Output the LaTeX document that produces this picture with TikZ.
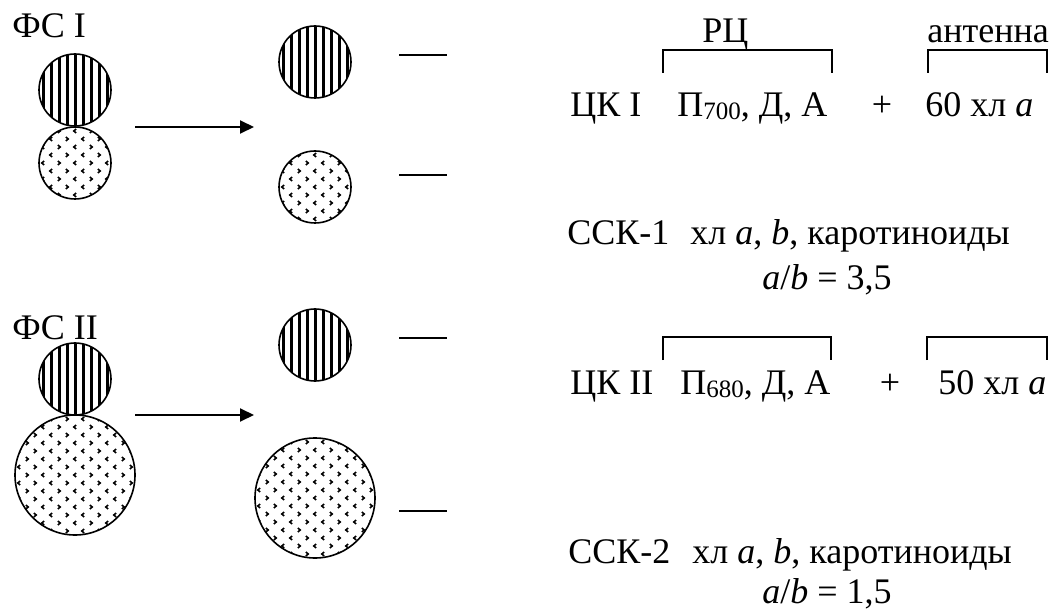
\documentclass[tikz,border=0pt]{standalone}
\usepackage{fontspec}
\setmainfont{Liberation Serif}
\usepackage{tikz}
\usetikzlibrary{arrows.meta,positioning}

\newcommand{\lowidx}[1]{\raisebox{-1.5pt}{\fontsize{12.5}{13}\selectfont #1}}

\tikzset{
  lbl/.style={anchor=base west,inner sep=0pt,font=\fontsize{18}{20}\selectfont},
  plus/.style={anchor=base,inner sep=0pt,font=\fontsize{18}{20}\selectfont},
  stripedcirc/.style={circle,draw,line width=.8pt,inner sep=0pt,minimum size=#1,
    path picture={
      \foreach \i in {-8,...,8}
        \draw[line width=1.5pt] ([xshift=\i*4pt]path picture bounding box.south)
          -- ([xshift=\i*4pt]path picture bounding box.north);}},
  dottedcirc/.style={circle,draw,line width=.8pt,inner sep=0pt,minimum size=#1,
    path picture={
      \foreach \i in {-8,...,8}{
        \foreach \j in {-8,...,8}{
          \pgfmathtruncatemacro\odd{mod(\i+\j+32,2)}
          \pgfmathtruncatemacro\kind{mod(\i+32,4)}
          \ifnum\odd=0
            \ifnum\kind<2
              \draw[line width=.8pt] ([shift={(\i*4pt+.6pt,\j*4pt+1pt)}]path picture bounding box.center)
                -- ++(-1.2pt,-1pt) -- ++(1.2pt,-1pt);
            \else
              \draw[line width=.8pt] ([shift={(\i*4pt-.6pt,\j*4pt+1pt)}]path picture bounding box.center)
                -- ++(1.2pt,-1pt) -- ++(-1.2pt,-1pt);
            \fi
          \fi}}}},
  brk/.style={line width=.85pt},
  arr/.style={line width=1pt,-{Triangle[length=7pt,width=6.5pt]}},
  dashmark/.style={line width=1.3pt}
}

\begin{document}
\begin{tikzpicture}[x=0.5pt,y=-0.5pt]
  \useasboundingbox (0,0) rectangle (1055,609);

  % photosystem I
  \node[lbl] (fs1) at (12,38) {ФС I};
  \node[stripedcirc=36pt] (rc1) at (75,90) {};
  \node[dottedcirc=36pt] (lh1) at (75,163) {};
  \coordinate (a1s) at (135,127);
  \coordinate (a1e) at (254,127);
  \draw[arr] (a1s) -- (a1e);
  \node[stripedcirc=36pt] (ck1) at (315,62) {};
  \node[dottedcirc=36pt] (ssk1) at (315,187) {};
  \draw[dashmark] (399,55) -- (447,55);
  \draw[dashmark] (399,175) -- (447,175);

  % photosystem II
  \node[lbl] (fs2) at (12,339) {ФС II};
  \node[stripedcirc=36pt] (rc2) at (75,379) {};
  \node[dottedcirc=60pt] (lh2) at (75,475) {};
  \coordinate (a2s) at (135,415);
  \coordinate (a2e) at (254,415);
  \draw[arr] (a2s) -- (a2e);
  \node[stripedcirc=36pt] (ck2) at (315,345) {};
  \node[dottedcirc=60pt] (ssk2) at (315,498) {};
  \draw[dashmark] (399,338) -- (447,338);
  \draw[dashmark] (399,511) -- (447,511);

  % composition, PS I
  \node[lbl] (rclbl) at (702,43) {РЦ};
  \node[lbl] (antlbl) at (927,43) {антенна};
  \draw[brk] (663,73) |- (832,50) -- (832,73);
  \draw[brk] (928,73) |- (1047,50) -- (1047,73);
  \node[lbl] (ck1t) at (570,117) {ЦК I};
  \node[lbl] (p700) at (677,117) {П\lowidx{700}, Д, А};
  \node[plus] (pl1) at (882,117) {+};
  \node[lbl] (chl60) at (925,117) {60 хл \textit{a}};
  \node[lbl] (ssk1t) at (567,245) {ССК-1};
  \node[lbl] (ssk1c) at (690,245) {хл \textit{a}, \textit{b}, каротиноиды};
  \node[lbl] (ratio1) at (762,290) {\textit{a}/\textit{b} = 3,5};

  % composition, PS II
  \draw[brk] (663,360) |- (831,337) -- (831,360);
  \draw[brk] (927,360) |- (1047,337) -- (1047,360);
  \node[lbl] (ck2t) at (570,394) {ЦК II};
  \node[lbl] (p680) at (680,394) {П\lowidx{680}, Д, А};
  \node[plus] (pl2) at (890,394) {+};
  \node[lbl] (chl50) at (938,394) {50 хл \textit{a}};
  \node[lbl] (ssk2t) at (568,563) {ССК-2};
  \node[lbl] (ssk2c) at (692,563) {хл \textit{a}, \textit{b}, каротиноиды};
  \node[lbl] (ratio2) at (762,603) {\textit{a}/\textit{b} = 1,5};
\end{tikzpicture}
\end{document}
